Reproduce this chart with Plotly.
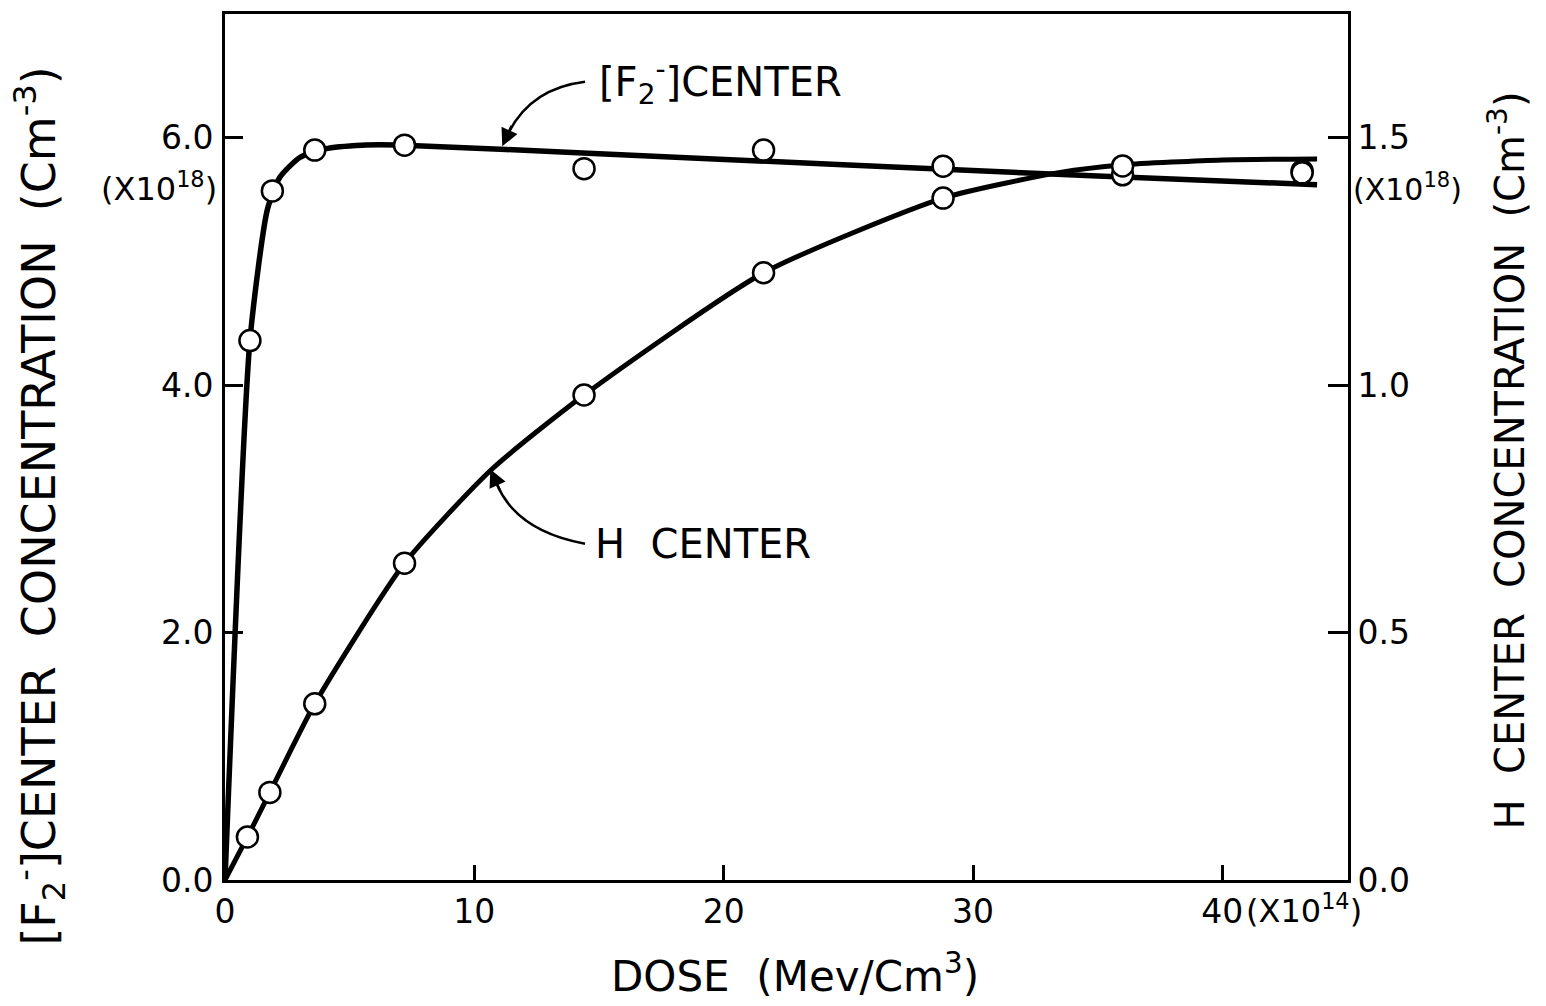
import plotly.graph_objects as go

# ---- data ----
f2_dose = [1.0, 1.9, 3.6, 7.2, 14.4, 21.6, 28.8, 36.0, 43.2]
f2_conc = [4.36, 5.57, 5.90, 5.94, 5.75, 5.90, 5.77, 5.70, 5.73]   # x10^18 cm^-3 (left axis)

h_dose = [0.9, 1.8, 3.6, 7.2, 14.4, 21.6, 28.8, 36.0, 43.2]
h_conc = [0.087, 0.177, 0.356, 0.640, 0.980, 1.227, 1.378, 1.443, 1.429]  # x10^18 cm^-3 (right axis)

# hand-drawn smooth curves
f2_curve_dose = [0, 1.0, 1.7, 2.2, 3.0, 4.0, 5.5, 7.2, 15, 25, 35, 43.8]
f2_curve_conc = [0, 4.36, 5.42, 5.68, 5.84, 5.91, 5.94, 5.94, 5.87, 5.78, 5.69, 5.62]

h_curve_dose = [0, 0.9, 1.8, 3.6, 7.2, 10.7, 14.4, 21.6, 28.8, 33.5, 36, 40, 43.8]
h_curve_conc = [0, 0.087, 0.177, 0.356, 0.640, 0.830, 0.980, 1.227, 1.378, 1.430, 1.445, 1.455, 1.457]

x_ticks = [0, 10, 20, 30, 40]
y_left_ticks = [0, 2, 4, 6]
y_left_text = ["0.0", "2.0", "4.0", "6.0"]
y_right_ticks = [0, 0.5, 1.0, 1.5]
y_right_text = ["0.0", "0.5", "1.0", "1.5"]

FONT = "DejaVu Sans"
BLACK = "black"

fig = go.Figure()

fig.add_trace(go.Scatter(x=f2_curve_dose, y=f2_curve_conc, mode="lines",
                         line=dict(color=BLACK, width=5.5, shape="spline", smoothing=0.6),
                         showlegend=False, hoverinfo="skip"))
fig.add_trace(go.Scatter(x=h_curve_dose, y=h_curve_conc, mode="lines", yaxis="y2",
                         line=dict(color=BLACK, width=5, shape="spline", smoothing=0.6),
                         showlegend=False, hoverinfo="skip"))
fig.add_trace(go.Scatter(x=f2_dose, y=f2_conc, mode="markers",
                         marker=dict(symbol="circle", size=21, color="white",
                                     line=dict(color=BLACK, width=2.5)),
                         showlegend=False))
fig.add_trace(go.Scatter(x=h_dose, y=h_conc, mode="markers", yaxis="y2",
                         marker=dict(symbol="circle", size=21, color="white",
                                     line=dict(color=BLACK, width=2.5)),
                         showlegend=False))

annotations = [
    # left axis title
    dict(text="[F<sub>2</sub><sup>-</sup>]CENTER  CONCENTRATION  (Cm<sup>-3</sup>)",
         xref="paper", yref="paper", x=-0.165, y=0.432, textangle=-90, showarrow=False,
         font=dict(family=FONT, size=46, color=BLACK), xanchor="center", yanchor="middle"),
    # right axis title
    dict(text="H  CENTER  CONCENTRATION  (Cm<sup>-3</sup>)",
         xref="paper", yref="paper", x=1.142, y=0.485, textangle=-90, showarrow=False,
         font=dict(family=FONT, size=40, color=BLACK), xanchor="center", yanchor="middle"),
    # x title
    dict(text="DOSE  (Mev/Cm<sup>3</sup>)", xref="paper", yref="paper", x=0.508, y=-0.108,
         showarrow=False, font=dict(family=FONT, size=42, color=BLACK),
         xanchor="center", yanchor="middle"),
    # multipliers
    dict(text="(X10<sup>18</sup>)", xref="paper", yref="y", x=-0.005, y=5.6, showarrow=False,
         font=dict(family=FONT, size=32, color=BLACK), xanchor="right", yanchor="middle"),
    dict(text="(X10<sup>18</sup>)", xref="paper", yref="y", x=1.003, y=5.6, showarrow=False,
         font=dict(family=FONT, size=30, color=BLACK), xanchor="left", yanchor="middle"),
    dict(text="(X10<sup>14</sup>)", xref="x", yref="paper", x=40.85, y=-0.034, showarrow=False,
         font=dict(family=FONT, size=32, color=BLACK), xanchor="left", yanchor="middle"),
    # curve labels
    dict(text="[F<sub>2</sub><sup>-</sup>]CENTER", xref="x", yref="y", x=14.9, y=6.45,
         showarrow=False, font=dict(family=FONT, size=40, color=BLACK),
         xanchor="left", yanchor="middle"),
    dict(text="H  CENTER", xref="x", yref="y", x=14.75, y=2.72,
         showarrow=False, font=dict(family=FONT, size=40, color=BLACK),
         xanchor="left", yanchor="middle"),
    # arrow heads
    dict(text="", xref="x", yref="y", x=11.12, y=5.93, ax=10, ay=-22, showarrow=True,
         arrowhead=2, arrowsize=1.4, arrowwidth=2.5, arrowcolor=BLACK),
    dict(text="", xref="x", yref="y", x=10.64, y=3.32, ax=10, ay=22, showarrow=True,
         arrowhead=2, arrowsize=1.4, arrowwidth=2.5, arrowcolor=BLACK),
]

shapes = [
    dict(type="path", xref="x", yref="y",
         path="M 14.44 6.452 Q 12.3 6.40 11.4 6.05",
         line=dict(color=BLACK, width=2.5)),
    dict(type="path", xref="x", yref="y",
         path="M 14.44 2.718 Q 11.7 2.82 10.9 3.20",
         line=dict(color=BLACK, width=2.5)),
]

axis_font = dict(family=FONT, size=33, color=BLACK)

fig.update_layout(
    width=1546, height=1006,
    margin=dict(l=225, r=198, t=11, b=126),
    paper_bgcolor="white", plot_bgcolor="white",
    showlegend=False,
    annotations=annotations,
    shapes=shapes,
    xaxis=dict(range=[0, 45.04], tickvals=x_ticks, ticktext=[str(v) for v in x_ticks],
               ticks="inside", ticklen=15, tickwidth=2.5, tickcolor=BLACK,
               showline=True, linewidth=3, linecolor=BLACK, mirror=True,
               showgrid=False, zeroline=False, tickfont=axis_font),
    yaxis=dict(range=[0, 7.0], tickvals=y_left_ticks, ticktext=y_left_text,
               ticks="inside", ticklen=18, tickwidth=2.5, tickcolor=BLACK,
               showline=True, linewidth=3, linecolor=BLACK,
               showgrid=False, zeroline=False, tickfont=axis_font, ticklabelstandoff=2),
    yaxis2=dict(range=[0, 1.75], tickvals=y_right_ticks, ticktext=y_right_text,
                overlaying="y", side="right",
                ticks="inside", ticklen=20, tickwidth=2.5, tickcolor=BLACK,
                showline=True, linewidth=3, linecolor=BLACK,
                showgrid=False, zeroline=False, tickfont=axis_font),
)

fig.write_html("out.html")
